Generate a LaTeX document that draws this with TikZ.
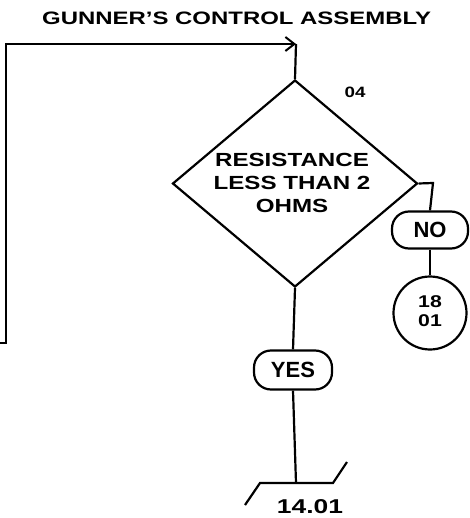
\documentclass[tikz,border=0pt]{standalone}
\usepackage{fontspec}
\setmainfont{Liberation Sans}
\usetikzlibrary{shapes.geometric,arrows.meta}
\newcommand\wtxt[2]{\scalebox{#1}[1]{#2}}
\begin{document}
\begin{tikzpicture}[x=1pt,y=-1pt,
  ln/.style={line width=2.2pt},
  pill/.style={ln,draw,rounded corners=17pt,minimum width=76pt,minimum height=37pt,inner sep=0pt,font=\bfseries\fontsize{22}{22}\selectfont},
  ref/.style={ln,draw,circle,minimum size=73pt,inner sep=0pt,font=\bfseries\fontsize{17}{18}\selectfont}]
\useasboundingbox (0,0) rectangle (469,518);
\node[anchor=west,inner sep=0pt,font=\bfseries\fontsize{18}{20}\selectfont] (title) at (42,18) {\wtxt{1.33}{GUNNER'S CONTROL ASSEMBLY}};
\node[ln,draw,diamond,inner sep=0pt,minimum width=245pt,minimum height=207pt] (dia) at (295,183.5) {};
\node[font=\bfseries\fontsize{19}{23}\selectfont] (q) at (292,185) {\wtxt{1.27}{\begin{tabular}{@{}c@{}}RESISTANCE\\LESS THAN 2\\OHMS\end{tabular}}};
\node[font=\bfseries\fontsize{15}{15}\selectfont] (num) at (355,92) {\wtxt{1.25}{04}};
\node[pill] (no) at (430,230) {NO};
\node[ref] (r18) at (430,313) {\wtxt{1.25}{\begin{tabular}{@{}c@{}}18\\[1pt]01\end{tabular}}};
\node[pill,minimum width=78pt,minimum height=39pt] (yes) at (293,370) {YES};
\node[font=\bfseries\fontsize{20}{20}\selectfont] (off) at (310,507) {\wtxt{1.32}{14.01}};
\coordinate (L0) at (0,343);
\coordinate (L1) at (6,343);
\coordinate (L2) at (6,44);
\coordinate (A) at (296,44);
\coordinate (nr) at (433,183);
\coordinate (c14) at (296,483);
\coordinate (o1) at (245,505);
\coordinate (o2) at (260,483);
\coordinate (o3) at (333,483);
\coordinate (o4) at (347,462);
\draw[ln,-{Straight Barb[length=9pt,width=14pt,line width=2pt]}] (L0) -- (L1) -- (L2) -- (A);
\draw[ln] (A) -- (dia.north);
\draw[ln] (dia.east) -- (nr) -- (no.north);
\draw[ln] (no.south) -- (r18.north);
\draw[ln] (dia.south) -- (yes.north);
\draw[ln] (yes.south) -- (c14);
\draw[ln] (o1) -- (o2) -- (o3) -- (o4);
\end{tikzpicture}
\end{document}
